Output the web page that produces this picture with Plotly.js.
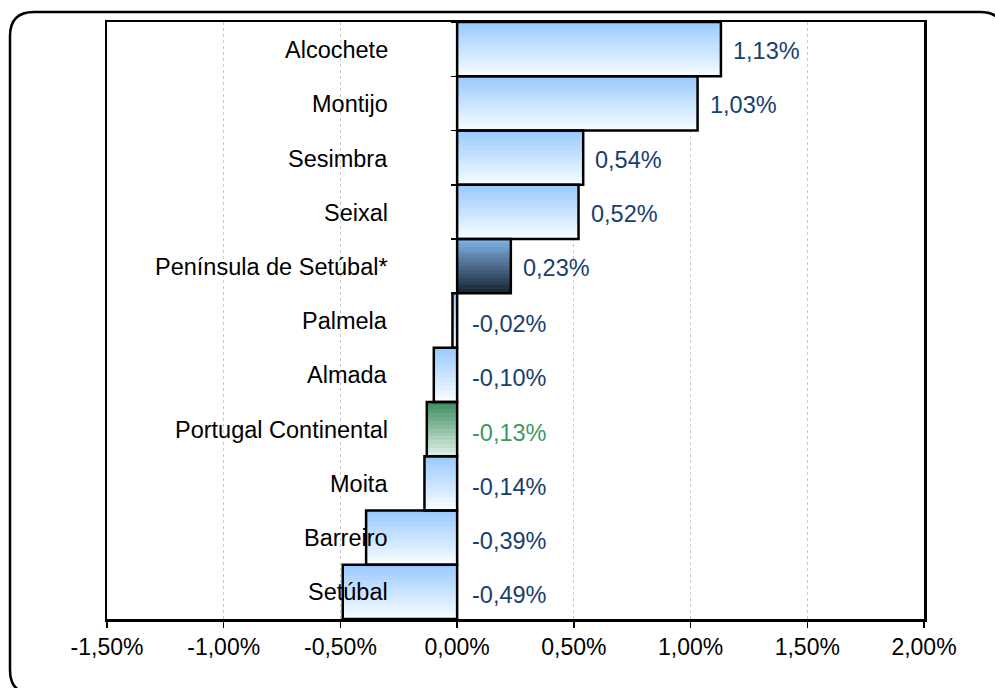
<!DOCTYPE html>
<html>
<head>
<meta charset="utf-8">
<script src="https://cdn.plot.ly/plotly-3.0.1.min.js"></script>
<style>
html,body{margin:0;padding:0;background:#fff;}
#chart{width:995px;height:688px;}
</style>
</head>
<body>
<div id="chart"></div>
<script>
// ---- data ----
const categories = ["Alcochete","Montijo","Sesimbra","Seixal","Península de Setúbal*","Palmela","Almada","Portugal Continental","Moita","Barreiro","Setúbal"];
const values = [1.13, 1.03, 0.54, 0.52, 0.23, -0.02, -0.10, -0.13, -0.14, -0.39, -0.49];
const tickVals = [-1.5, -1.0, -0.5, 0.0, 0.5, 1.0, 1.5, 2.0];
const tickLabels = ["-1,50%","-1,00%","-0,50%","0,00%","0,50%","1,00%","1,50%","2,00%"];
const xRange = [-1.5, 2.0];

// ---- styling ----
const kind = categories.map(c => c === "Península de Setúbal*" ? "region" : (c === "Portugal Continental" ? "country" : "muni"));
const gradStops = {
  muni:    [[155,203,255],[246,251,255]],
  region:  [[125,175,225],[28,40,56]],
  country: [[64,142,98],[218,238,226]]
};
const labelColor = {muni:"#17406D", region:"#17406D", country:"#3A9A62"};
function mix(a,b,t){return "rgb("+a.map((v,i)=>Math.round(v+(b[i]-v)*t)).join(",")+")";}

const FONT = "Liberation Sans, Arial, sans-serif";
const N = 14;
const traces = [];
for (let k = 0; k < N; k++) {
  const t = k/(N-1);
  traces.push({
    type:"bar", orientation:"h",
    x: values, y: categories,
    width: 1/N + 0.01, offset: -0.5 + k/N,
    marker:{color: kind.map(kd => mix(gradStops[kd][0], gradStops[kd][1], t)), line:{width:0}},
    hoverinfo:"skip", showlegend:false
  });
}
traces.push({
  type:"bar", orientation:"h",
  x: values, y: categories, yaxis:"y2",
  width: 1, offset: -0.5,
  marker:{color:"rgba(0,0,0,0)", line:{color:"#000", width:2.5}},
  hoverinfo:"skip", showlegend:false
});

const annotations = [];
categories.forEach((c,i) => {
  annotations.push({
    x:0, y:c, xref:"x", yref:"y", xanchor:"right", yanchor:"middle",
    xshift:-67, yshift:-1, text:c, showarrow:false,
    font:{family:FONT, size:23.5, color:"#000"}
  });
  const v = values[i];
  annotations.push({
    x: v > 0 ? v : 0, y:c, xref:"x", yref:"y", xanchor:"left", yanchor:"middle",
    xshift: v > 0 ? 10 : 13, yshift: v > 0 ? -2 : -4,
    text: v.toFixed(2).replace(".", ",") + "%", showarrow:false,
    font:{family:FONT, size:23.5, color:labelColor[kind[i]]}
  });
});

// rounded outer frame in paper coords (plot area: x 107..924, y 22..619)
const W = 817, H = 597, L = 107, T = 22;
function px(xp){return (xp - L)/W;}
function py(yp){return 1 - (yp - T)/H;}
const fx0=10, fy0=12, fx1=1004, fy1=694, r=24;
const framePath = `M ${px(fx0+r)},${py(fy0)} L ${px(fx1-r)},${py(fy0)} Q ${px(fx1)},${py(fy0)} ${px(fx1)},${py(fy0+r)} L ${px(fx1)},${py(fy1-r)} Q ${px(fx1)},${py(fy1)} ${px(fx1-r)},${py(fy1)} L ${px(fx0+r)},${py(fy1)} Q ${px(fx0)},${py(fy1)} ${px(fx0)},${py(fy1-r)} L ${px(fx0)},${py(fy0+r)} Q ${px(fx0)},${py(fy0)} ${px(fx0+r)},${py(fy0)} Z`;

const layout = {
  width:995, height:688,
  margin:{l:107, r:71, t:22, b:69, pad:0},
  paper_bgcolor:"#fff", plot_bgcolor:"#fff",
  barmode:"overlay", bargap:0,
  font:{family:FONT, size:23, color:"#000"},
  xaxis:{
    range:xRange, tickvals:tickVals, ticktext:tickLabels,
    showgrid:true, gridcolor:"#C8C8C8", griddash:"dot", gridwidth:1,
    zeroline:true, zerolinecolor:"#000", zerolinewidth:2,
    showline:true, linecolor:"#000", linewidth:2.5, mirror:true,
    ticks:"outside", ticklen:6, tickcolor:"#000", tickwidth:1.5,
    tickfont:{family:FONT, size:23, color:"#000"}, fixedrange:true
  },
  yaxis:{
    autorange:"reversed", type:"category",
    showticklabels:false, showgrid:false, zeroline:false,
    showline:true, linecolor:"#000", linewidth:2.5, mirror:true, ticks:""
  },
  yaxis2:{
    autorange:"reversed", type:"category", overlaying:"y",
    anchor:"free", side:"left", position:(0 - xRange[0])/(xRange[1]-xRange[0]),
    showticklabels:false, showgrid:false, zeroline:false, showline:false,
    ticks:"outside", tickson:"boundaries", ticklen:6, tickcolor:"#000", tickwidth:1.5
  },
  annotations: annotations,
  shapes:[{type:"path", xref:"paper", yref:"paper", path:framePath, line:{color:"#000", width:2.5}, fillcolor:"rgba(0,0,0,0)", layer:"above"}]
};

Plotly.newPlot("chart", traces, layout, {displayModeBar:false, staticPlot:true});
</script>
</body>
</html>
